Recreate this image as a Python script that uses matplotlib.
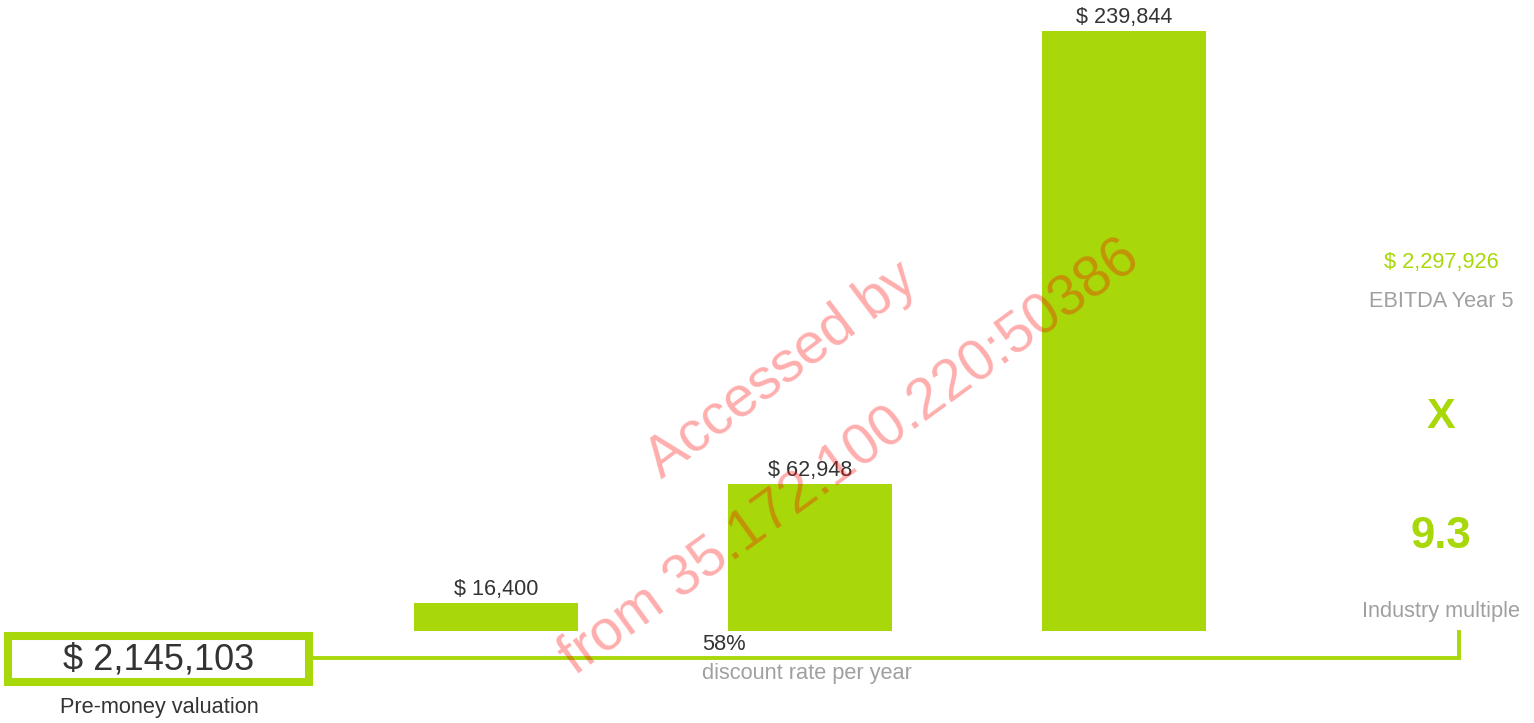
import matplotlib
matplotlib.use("Agg")
import matplotlib.pyplot as plt
from matplotlib.patches import Rectangle
from matplotlib.lines import Line2D

plt.rcParams['font.family'] = ['Liberation Sans', 'DejaVu Sans']

# data
years = ["Year 1", "Year 2", "Year 3"]
values = [16400, 62948, 239844]
value_labels = ["$ 16,400", "$ 62,948", "$ 239,844"]
pre_money = "$ 2,145,103"
discount_rate = "58%"
ebitda_y5 = "$ 2,297,926"
multiple = "9.3"

GREEN = "#a8d80a"
DARK = "#333333"
GRAY = "#a0a0a0"

W, H = 1534, 723
fig = plt.figure(figsize=(W / 100, H / 100), dpi=100)


def px(x, y):
    return x / W, 1 - y / H


# bar axes
ax = fig.add_axes([339 / W, 92 / H, 942 / W, 600 / H])
ax.bar(range(len(values)), values, width=0.522, color=GREEN)
ax.set_xlim(-0.5, 2.5)
ax.set_ylim(5460, max(values))
ax.axis("off")
for i, (v, lab) in enumerate(zip(values, value_labels)):
    ax.annotate(lab, (i, v), xytext=(0, 2), textcoords="offset points",
                ha="center", va="bottom", fontsize=15.6, color=DARK,
                annotation_clip=False)

# pre-money box
fig.patches.append(Rectangle(px(8, 682), 301 / W, 46 / H, transform=fig.transFigure,
                             fill=False, edgecolor=GREEN, linewidth=5.8,
                             joinstyle="miter"))
fig.text(*px(159, 660), pre_money, ha="center", va="center", fontsize=26, color=DARK)
fig.text(*px(159, 708), "Pre-money valuation", ha="center", va="center",
         fontsize=15.7, color=DARK)

# connector line
xs = [313 / W, 1459 / W, 1459 / W]
ys = [1 - 658 / H, 1 - 658 / H, 1 - 632 / H]
fig.lines.append(Line2D(xs, ys, transform=fig.transFigure, color=GREEN,
                        linewidth=2.8, solid_joinstyle="miter"))

fig.text(*px(702, 645), discount_rate, ha="left", va="center", fontsize=15.7, color=DARK)
fig.text(*px(702, 674), "discount rate per year", ha="left", va="center",
         fontsize=15.7, color=GRAY)

# right column
fig.text(*px(1441, 262), ebitda_y5, ha="center", va="center", fontsize=15.7, color=GREEN)
fig.text(*px(1441, 301), "EBITDA Year 5", ha="center", va="center", fontsize=15.7, color=GRAY)
fig.text(*px(1441, 417), "X", ha="center", va="center", fontsize=31,
         fontweight="bold", color=GREEN)
fig.text(*px(1441, 537), multiple, ha="center", va="center", fontsize=31.5,
         fontweight="bold", color=GREEN)
fig.text(*px(1441, 611), "Industry multiple", ha="center", va="center",
         fontsize=15.7, color=GRAY)

# watermark
fig.text(*px(782, 370), "Accessed by", ha="center", va="center", fontsize=41,
         rotation=37, color="red", alpha=0.32, rotation_mode="anchor")
fig.text(*px(850, 457), "from 35.172.100.220:50386", ha="center", va="center",
         fontsize=41, rotation=36, color="red", alpha=0.32, rotation_mode="anchor")

fig.savefig("out.png", dpi=100, facecolor="white")
